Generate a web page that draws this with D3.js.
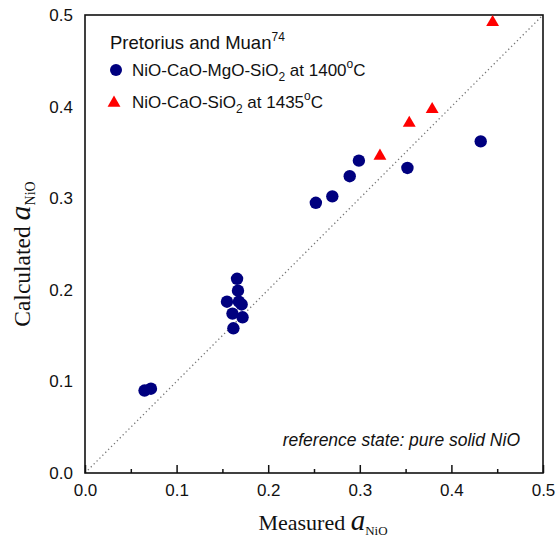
<!DOCTYPE html>
<html lang="en">
<head>
    <meta charset="UTF-8">
    <title>Calculated vs measured aNiO</title>
    <script src="https://d3js.org/d3.v7.min.js"></script>
    <style>
        body {margin: 0; background: white;}
        text {font-family: "Liberation Sans", Arial, sans-serif; fill: #111;}
        .serif {font-family: "Liberation Serif", "Times New Roman", serif;}
    </style>
</head>
<body>
<script>
    const width = 556;
    const height = 541;

    // NiO-CaO-MgO-SiO2 at 1400 C (circles)
    const mgMeasured   = [0.065, 0.072, 0.155, 0.161, 0.162, 0.166, 0.167, 0.168, 0.171, 0.172, 0.252, 0.270, 0.289, 0.299, 0.352, 0.432];
    const mgCalculated = [0.090, 0.092, 0.187, 0.174, 0.158, 0.212, 0.199, 0.187, 0.184, 0.170, 0.295, 0.302, 0.324, 0.341, 0.333, 0.362];

    // NiO-CaO-SiO2 at 1435 C (triangles)
    const caMeasured   = [0.322, 0.354, 0.379, 0.445];
    const caCalculated = [0.346, 0.382, 0.397, 0.492];

    const majorTicks = [0, 0.1, 0.2, 0.3, 0.4, 0.5];
    const minorTicks = [0.05, 0.15, 0.25, 0.35, 0.45];

    const svg = d3.select("body").append("svg")
            .attr("width", width).attr("height", height);

    const x = d3.scaleLinear().domain([0, 0.5]).range([85, 543]);
    const y = d3.scaleLinear().domain([0, 0.5]).range([473, 15]);

    // parity line
    svg.append("line")
            .attr("x1", x(0)).attr("y1", y(0))
            .attr("x2", x(0.5)).attr("y2", y(0.5))
            .style("stroke", "#777")
            .style("stroke-width", 1.3)
            .style("stroke-dasharray", "1.3,2.8");

    // bottom axis: inward ticks
    const xMinor = svg.append("g")
            .attr("transform", `translate(0,${y(0)})`)
            .call(d3.axisBottom(x).tickValues(minorTicks).tickSize(-4).tickFormat(""));
    const xMajor = svg.append("g")
            .attr("transform", `translate(0,${y(0)})`)
            .call(d3.axisBottom(x).tickValues(majorTicks).tickSize(-8).tickPadding(11)
                    .tickFormat(d3.format(".1f")));
    [xMinor, xMajor].forEach(g => {
        g.select(".domain").remove();
        g.selectAll("line").style("stroke", "#111").style("stroke-width", 1.5);
    });
    xMajor.selectAll("text").style("font-size", "17px").attr("fill", "#111");

    // left axis: labels only
    const yAxis = svg.append("g")
            .attr("transform", `translate(${x(0)},0)`)
            .call(d3.axisLeft(y).tickValues(majorTicks).tickSize(0).tickPadding(12)
                    .tickFormat(d3.format(".1f")));
    yAxis.select(".domain").remove();
    yAxis.selectAll("text").style("font-size", "17px").attr("fill", "#111");

    // frame
    svg.append("rect")
            .attr("x", x(0)).attr("y", y(0.5))
            .attr("width", x(0.5) - x(0)).attr("height", y(0) - y(0.5))
            .style("fill", "none")
            .style("stroke", "#111")
            .style("stroke-width", 1.6);

    // circles
    svg.selectAll("circle.mg")
            .data(mgMeasured.map((m, i) => [m, mgCalculated[i]]))
            .enter()
            .append("circle")
            .attr("class", "mg")
            .attr("cx", d => x(d[0]))
            .attr("cy", d => y(d[1]))
            .attr("r", 6.2)
            .style("fill", "#00007f");

    // triangles
    const tri = d3.symbol().type(d3.symbolTriangle).size(72);
    svg.selectAll("path.ca")
            .data(caMeasured.map((m, i) => [m, caCalculated[i]]))
            .enter()
            .append("path")
            .attr("class", "ca")
            .attr("d", tri)
            .attr("transform", d => `translate(${x(d[0])},${y(d[1])})`)
            .style("fill", "#ff0000");

    // legend
    const title = svg.append("text")
            .attr("x", 110).attr("y", 49)
            .style("font-size", "18.5px");
    title.append("tspan").text("Pretorius and Muan");
    title.append("tspan").attr("dy", -8).style("font-size", "12px").text("74");

    svg.append("circle")
            .attr("cx", 116).attr("cy", 70).attr("r", 6)
            .style("fill", "#00007f");
    const l1 = svg.append("text")
            .attr("x", 132).attr("y", 76)
            .style("font-size", "17px");
    l1.append("tspan").text("NiO-CaO-MgO-SiO");
    l1.append("tspan").attr("dy", 5).style("font-size", "12px").text("2");
    l1.append("tspan").attr("dy", -5).text(" at 1400");
    l1.append("tspan").attr("dy", -8).style("font-size", "12px").text("o");
    l1.append("tspan").attr("dy", 8).text("C");

    svg.append("path")
            .attr("d", tri)
            .attr("transform", "translate(114,103)")
            .style("fill", "#ff0000");
    const l2 = svg.append("text")
            .attr("x", 132).attr("y", 108)
            .style("font-size", "17px");
    l2.append("tspan").text("NiO-CaO-SiO");
    l2.append("tspan").attr("dy", 5).style("font-size", "12px").text("2");
    l2.append("tspan").attr("dy", -5).text(" at 1435");
    l2.append("tspan").attr("dy", -8).style("font-size", "12px").text("o");
    l2.append("tspan").attr("dy", 8).text("C");

    // note
    svg.append("text")
            .attr("x", 520).attr("y", 446)
            .attr("text-anchor", "end")
            .style("font-size", "17.5px")
            .style("font-style", "italic")
            .text("reference state: pure solid NiO");

    // axis titles
    const xt = svg.append("text")
            .attr("class", "serif")
            .attr("x", 323).attr("y", 530)
            .attr("text-anchor", "middle")
            .style("font-size", "22px");
    xt.append("tspan").text("Measured ");
    xt.append("tspan").style("font-style", "italic").style("font-size", "29px").text("a");
    xt.append("tspan").attr("dy", 5).style("font-size", "13px").text("NiO");

    const yt = svg.append("text")
            .attr("class", "serif")
            .attr("transform", "translate(30,254) rotate(-90)")
            .attr("text-anchor", "middle")
            .style("font-size", "23.5px");
    yt.append("tspan").text("Calculated ");
    yt.append("tspan").style("font-style", "italic").style("font-size", "30px").text("a");
    yt.append("tspan").attr("dy", 5).style("font-size", "14px").text("NiO");
</script>
</body>
</html>
